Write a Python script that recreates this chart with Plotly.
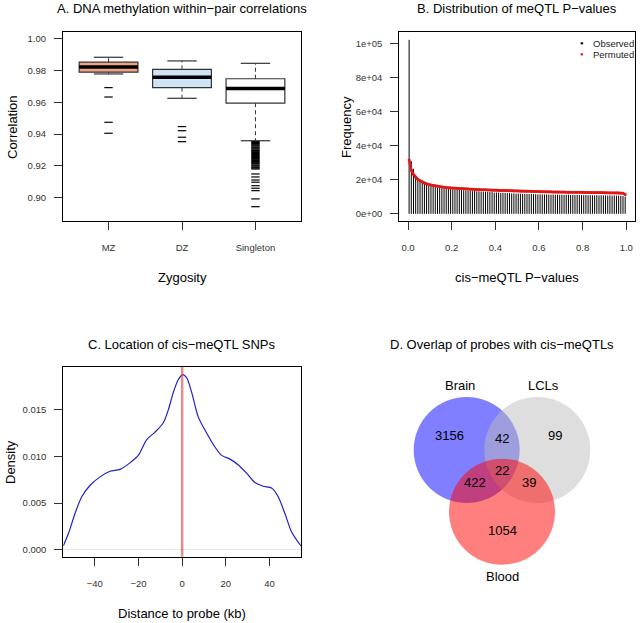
import numpy as np
import plotly.graph_objects as go

FONT = "Liberation Sans, Arial, sans-serif"
W, H = 640, 623

# ---------------- Panel A data ----------------
zyg_cats = ["MZ", "DZ", "Singleton"]
zyg_pos = [1, 2, 3]
box_lower = [0.9778, 0.9625, 0.9358]
box_q1 = [0.9789, 0.9692, 0.9594]
box_median = [0.9822, 0.9757, 0.9686]
box_q3 = [0.9852, 0.9807, 0.9748]
box_upper = [0.9883, 0.9860, 0.9845]
box_fill = ["#F2A584", "#CFE5F6", "#FFFFFF"]
outliers_mz = [0.9692, 0.9633, 0.9474, 0.9405]
outliers_dz = [0.9447, 0.9421, 0.9380, 0.9352]
outliers_single = [0.9352, 0.9347, 0.9341, 0.9336, 0.9330, 0.9325, 0.9318, 0.9313,
                   0.9307, 0.9300, 0.9296, 0.9289, 0.9284, 0.9277, 0.9271, 0.9266,
                   0.9259, 0.9253, 0.9247, 0.9241, 0.9234, 0.9228, 0.9222, 0.9216,
                   0.9211, 0.9204, 0.9198, 0.9191, 0.9186, 0.9180, 0.9149, 0.9130,
                   0.9111, 0.9097, 0.9075, 0.9059, 0.9044, 0.8992, 0.8943]

# ---------------- Panel B data ----------------
pbin_edges = np.linspace(0, 1, 101)
pbin_mid = (pbin_edges[:-1] + pbin_edges[1:]) / 2
observed = [102000, 30900, 26400, 22900, 20900, 19600, 18400, 17600, 17100, 16700,
            16300, 16000, 15700, 15500, 15300, 15100, 14900, 14700, 14600, 14500,
            14350, 14200, 14150, 13950, 13900, 13850, 13700, 13650, 13500, 13300,
            13300, 13200, 13250, 13050, 13000, 12950, 12900, 12800, 12750, 12400,
            12500, 12450, 12300, 12350, 12200, 12100, 12150, 12000, 11950, 11800,
            11900, 11800, 11750, 11700, 11700, 11600, 11650, 11500, 11550, 11400,
            11450, 11400, 11350, 11400, 11300, 11250, 11300, 11200, 11250, 11150,
            11200, 11100, 11150, 11200, 11050, 11100, 11000, 11100, 11050, 11000,
            10950, 11000, 10900, 10950, 10900, 10850, 10950, 10800, 10900, 10850,
            10800, 10750, 10850, 10700, 10750, 10650, 10700, 10600, 10550, 10100]
permuted = [31500, 25600, 23000, 21500, 20300, 19400, 18700, 18100, 17600, 17200,
            16900, 16600, 16300, 16100, 15900, 15700, 15550, 15400, 15300, 15200,
            15050, 14950, 14850, 14800, 14700, 14650, 14550, 14500, 14450, 14400,
            14300, 14250, 14200, 14150, 14100, 14050, 14000, 13950, 13900, 13850,
            13800, 13750, 13700, 13650, 13600, 13550, 13500, 13500, 13450, 13400,
            13350, 13300, 13300, 13250, 13200, 13200, 13150, 13100, 13100, 13050,
            13000, 13000, 12950, 12950, 12900, 12900, 12850, 12850, 12800, 12800,
            12750, 12750, 12700, 12700, 12700, 12650, 12650, 12650, 12600, 12600,
            12600, 12550, 12550, 12550, 12500, 12500, 12500, 12450, 12450, 12450,
            12400, 12400, 12400, 12350, 12350, 12300, 12300, 12250, 12100, 11400]
freq_ticks = [0, 20000, 40000, 60000, 80000, 100000]
freq_ticktext = ["0e+00", "2e+04", "4e+04", "6e+04", "8e+04", "1e+05"]

# ---------------- Panel C data ----------------
dist_kb = [-54.4, -52.1, -49.0, -45.9, -42.1, -37.6, -33.0, -28.4, -23.9, -20.1,
           -16.2, -12.4, -8.6, -6.3, -4.1, -1.8, 0.2, 2.1, 4.3, 7.4, 11.2, 15.0,
           18.1, 21.9, 25.6, 29.5, 33.3, 37.1, 40.9, 43.9, 47.0, 50.1, 54.4]
density = [0.0004, 0.0017, 0.0039, 0.0057, 0.0069, 0.0078, 0.0084, 0.0086, 0.0093, 0.0101,
           0.0118, 0.0126, 0.0136, 0.0150, 0.0168, 0.0182, 0.01875, 0.0184, 0.0169, 0.0142,
           0.0125, 0.0110, 0.0101, 0.0097, 0.0091, 0.0082, 0.0072, 0.0068, 0.0066, 0.0057,
           0.0039, 0.0019, 0.0004]

# ---------------- Panel D data ----------------
venn_sets = ["Brain", "LCLs", "Blood"]
venn_regions = ["Brain", "LCLs", "Blood", "Brain&LCLs", "Brain&Blood", "LCLs&Blood", "All"]
venn_counts = [3156, 99, 1054, 42, 422, 39, 22]

fig = go.Figure()

def dom_x(a, b):
    return [a / W, b / W]

def dom_y(top, bottom):
    return [1 - bottom / H, 1 - top / H]

# ---- Panel A: boxes ----
for i in range(3):
    fig.add_trace(go.Box(
        x=[zyg_pos[i]], q1=[box_q1[i]], median=[box_median[i]], q3=[box_q3[i]],
        lowerfence=[box_q1[i]], upperfence=[box_q3[i]],
        width=0.8, fillcolor=box_fill[i], line=dict(color="#333333", width=1.2),
        boxpoints=False, hoverinfo="skip", showlegend=False, xaxis="x", yaxis="y"))
wx, wy, cx, cy, mx, my = [], [], [], [], [], []
for i in range(3):
    p = zyg_pos[i]
    wx += [p, p, None, p, p, None]
    wy += [box_q3[i], box_upper[i], None, box_q1[i], box_lower[i], None]
    cx += [p - 0.2, p + 0.2, None, p - 0.2, p + 0.2, None]
    cy += [box_upper[i], box_upper[i], None, box_lower[i], box_lower[i], None]
    mx += [p - 0.4, p + 0.4, None]
    my += [box_median[i], box_median[i], None]
fig.add_trace(go.Scatter(x=wx, y=wy, mode="lines", line=dict(color="#333333", width=1, dash="4px,3px"),
                         showlegend=False, hoverinfo="skip", xaxis="x", yaxis="y"))
fig.add_trace(go.Scatter(x=cx, y=cy, mode="lines", line=dict(color="#333333", width=1.2),
                         showlegend=False, hoverinfo="skip", xaxis="x", yaxis="y"))
fig.add_trace(go.Scatter(x=mx, y=my, mode="lines", line=dict(color="black", width=3.5),
                         showlegend=False, hoverinfo="skip", xaxis="x", yaxis="y"))
ox = [1] * len(outliers_mz) + [2] * len(outliers_dz) + [3] * len(outliers_single)
oy = outliers_mz + outliers_dz + outliers_single
fig.add_trace(go.Scatter(x=ox, y=oy, mode="markers",
                         marker=dict(symbol="line-ew", size=6, line=dict(color="black", width=1.2)),
                         showlegend=False, hoverinfo="skip", xaxis="x", yaxis="y"))

# ---- Panel B ----
sx, sy = [], []
for m, v in zip(pbin_mid, observed):
    sx += [m, m, None]
    sy += [0, v, None]
fig.add_trace(go.Scatter(x=sx, y=sy, mode="lines", line=dict(color="black", width=1),
                         showlegend=False, hoverinfo="skip", xaxis="x2", yaxis="y2"))
fig.add_trace(go.Scatter(x=pbin_mid, y=permuted, mode="lines+markers",
                         line=dict(color="#E01818", width=2.5),
                         marker=dict(color="#E01818", size=3),
                         showlegend=False, hoverinfo="skip", xaxis="x2", yaxis="y2"))

# ---- Panel C ----
fig.add_trace(go.Scatter(x=dist_kb, y=density, mode="lines", line=dict(color="#2020C8", width=1.2, shape="spline", smoothing=0.8),
                         showlegend=False, hoverinfo="skip", xaxis="x3", yaxis="y3"))

# ---- Panel D (invisible anchor trace) ----
fig.add_trace(go.Scatter(x=[0], y=[0], mode="markers", marker=dict(opacity=0),
                         showlegend=False, hoverinfo="skip", xaxis="x4", yaxis="y4"))

ax_common = dict(showline=True, linecolor="black", linewidth=1, mirror=True, ticks="outside",
                 ticklen=8, tickcolor="#333333", tickwidth=1, showgrid=False, zeroline=False,
                 tickfont=dict(family=FONT, size=9.5, color="#333333"))

fig.update_layout(
    width=W, height=H, margin=dict(l=0, r=0, t=0, b=0),
    paper_bgcolor="white", plot_bgcolor="white", showlegend=False,
    xaxis=dict(domain=dom_x(63, 301), range=[0.38, 3.62], tickvals=zyg_pos, ticktext=zyg_cats,
               anchor="y", ticklabelstandoff=10, **ax_common),
    yaxis=dict(domain=dom_y(32, 221), range=[0.8853, 1.0042], tickvals=[0.90, 0.92, 0.94, 0.96, 0.98, 1.00],
               tickformat=".2f", anchor="x", ticklabelstandoff=6, **ax_common),
    xaxis2=dict(domain=dom_x(399.3, 635), range=[-0.04, 1.04], tickvals=[0, 0.2, 0.4, 0.6, 0.8, 1.0],
                tickformat=".1f", anchor="y2", ticklabelstandoff=10, **ax_common),
    yaxis2=dict(domain=dom_y(32, 221), range=[-4200, 106600], tickvals=freq_ticks, ticktext=freq_ticktext,
                anchor="x2", ticklabelstandoff=6, **ax_common),
    xaxis3=dict(domain=dom_x(63.3, 301), range=[-54.4, 54.4], tickvals=[-40, -20, 0, 20, 40],
                anchor="y3", ticklabelstandoff=10, **ax_common),
    yaxis3=dict(domain=dom_y(366.7, 556.7), range=[-0.00075, 0.0196], tickvals=[0, 0.005, 0.010, 0.015],
                tickformat=".3f", anchor="x3", ticklabelstandoff=6, **ax_common),
    xaxis4=dict(domain=[320 / W, 1], range=[(320 - 502) / 53, (640 - 502) / 53], visible=False, anchor="y4"),
    yaxis4=dict(domain=[0, (623 - 330) / H], range=[-(623 - 450) / 53, (450 - 330) / 53], visible=False, anchor="x4"),
)

# zero line & vertical line panel C
fig.update_yaxes(zeroline=True, zerolinecolor="#E6E6E6", zerolinewidth=1, selector=dict(anchor="x3"))
fig.add_shape(type="line", xref="x3", yref="y3 domain", x0=0, x1=0, y0=0, y1=1,
              line=dict(color="rgba(220,60,60,0.6)", width=2.5))

# Venn circles
venn_centers = {"Brain": (-0.666, 0.0), "LCLs": (0.666, 0.0), "Blood": (0.0, -1.164)}
venn_colors = {"Brain": "rgba(0,0,255,0.5)", "LCLs": "rgba(190,190,190,0.5)", "Blood": "rgba(255,0,0,0.5)"}
for s in venn_sets:
    cxv, cyv = venn_centers[s]
    fig.add_shape(type="circle", xref="x4", yref="y4", x0=cxv - 1, x1=cxv + 1, y0=cyv - 1, y1=cyv + 1,
                  fillcolor=venn_colors[s], line=dict(width=0), layer="above")

venn_label_pos = {"Brain": (-0.79, 1.21), "LCLs": (0.79, 1.21), "Blood": (0.0, -2.38)}
for s in venn_sets:
    lx, ly = venn_label_pos[s]
    fig.add_annotation(x=lx, y=ly, xref="x4", yref="y4", text=s, showarrow=False,
                       font=dict(family=FONT, size=13, color="black"))
venn_count_pos = {"Brain": (-0.99, 0.28), "LCLs": (1.0, 0.28), "Blood": (0.0, -1.51),
                  "Brain&LCLs": (0.0, 0.22), "Brain&Blood": (-0.51, -0.62),
                  "LCLs&Blood": (0.5, -0.62), "All": (0.0, -0.39)}
for r, c in zip(venn_regions, venn_counts):
    lx, ly = venn_count_pos[r]
    fig.add_annotation(x=lx, y=ly, xref="x4", yref="y4", text=str(c), showarrow=False,
                       font=dict(family=FONT, size=13, color="black"))

# Titles and axis titles
def ann(x, y, text, size=13, angle=0, color="black", xanchor="center"):
    fig.add_annotation(x=x / W, y=1 - y / H, xref="paper", yref="paper", text=text, showarrow=False,
                       textangle=angle, xanchor=xanchor, yanchor="middle",
                       font=dict(family=FONT, size=size, color=color))

ann(182, 8, "A. DNA methylation within\u2212pair correlations")
ann(517, 8, "B. Distribution of meQTL P\u2212values")
ann(182, 344, "C. Location of cis\u2212meQTL SNPs")
ann(502, 344, "D. Overlap of probes with cis\u2212meQTLs")
ann(182, 277, "Zygosity")
ann(12, 127, "Correlation", angle=-90)
ann(517, 277, "cis\u2212meQTL P\u2212values")
ann(346, 127, "Frequency", angle=-90)
ann(182, 613, "Distance to probe (kb)")
ann(10, 462, "Density", angle=-90)

# Legend for panel B
ann(581.7, 43.3, "\u25cf", size=6, color="black")
ann(581.7, 54.3, "\u25cf", size=6, color="#E01818")
ann(591, 43.7, "Observed", size=9.5, color="#222222", xanchor="left")
ann(591, 54.7, "Permuted", size=9.5, color="#222222", xanchor="left")

fig.write_html("out.html", config={"displayModeBar": False},
               post_script="document.body.style.margin='0px';document.body.style.padding='0px';")
